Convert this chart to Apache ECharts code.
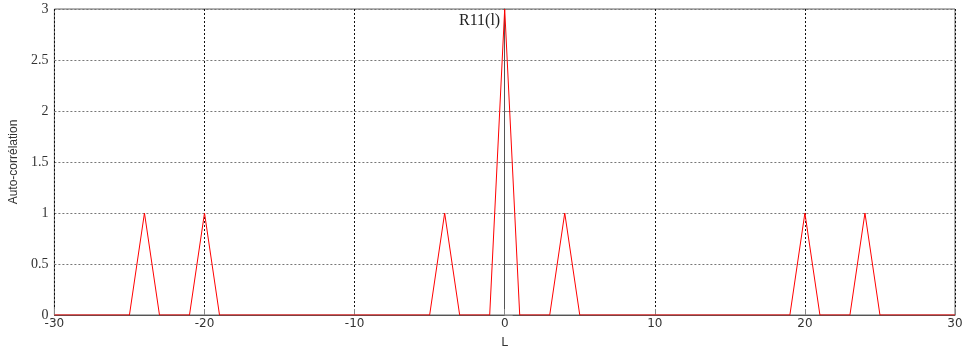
<!DOCTYPE html>
<html>
<head>
<meta charset="utf-8">
<script src="https://cdn.jsdelivr.net/npm/echarts@6/dist/echarts.min.js"></script>
<style>html,body{margin:0;padding:0;background:#fff;}#c{width:967px;height:354px;}</style>
</head>
<body>
<div id="c"></div>
<script>
const lags = [-30, -25, -24, -23, -21, -20, -19, -5, -4, -3, -1, 0, 1, 3, 4, 5, 19, 20, 21, 23, 24, 25, 30];
const corr = [0, 0, 1, 0, 0, 1, 0, 0, 1, 0, 0, 3, 0, 0, 1, 0, 0, 1, 0, 0, 1, 0, 0];
const xTicks = [-30, -20, -10, 0, 10, 20, 30];
const yTicks = [0, 0.5, 1, 1.5, 2, 2.5, 3];
const peakLabel = 'R11(l)';
const xName = 'L';
const yName = 'Auto-corrélation';

const chart = echarts.init(document.getElementById('c'), null, {renderer: 'canvas'});
const peakIdx = corr.indexOf(Math.max(...corr));
chart.setOption({
  animation: false,
  grid: {left: 53, right: 12, top: 9, bottom: 37, show: true, borderColor: '#666', borderWidth: 1},
  xAxis: {
    type: 'value', min: xTicks[0], max: xTicks[xTicks.length - 1], interval: 10,
    name: xName, nameLocation: 'middle', nameGap: 22,
    nameTextStyle: {fontFamily: 'DejaVu Sans', fontSize: 12, color: '#333'},
    axisLine: {show: true, onZero: false, lineStyle: {color: '#555'}},
    axisTick: {show: true, inside: true, length: 6, lineStyle: {color: '#888'}},
    axisLabel: {fontFamily: 'DejaVu Sans', fontSize: 12, color: '#333', margin: 3},
    splitLine: {show: true, lineStyle: {type: [2, 2], color: '#111', width: 1}}
  },
  yAxis: {
    type: 'value', min: yTicks[0], max: yTicks[yTicks.length - 1], interval: 0.5,
    name: yName, nameLocation: 'middle', nameGap: 33, nameRotate: 90,
    nameTextStyle: {fontFamily: 'Liberation Sans Narrow, Liberation Sans', fontSize: 12, color: '#333'},
    axisLine: {show: true, lineStyle: {color: '#555'}},
    axisTick: {show: true, inside: true, length: 8, lineStyle: {color: '#888'}},
    axisLabel: {fontFamily: 'Liberation Serif', fontSize: 14, color: '#333', margin: 6},
    splitLine: {show: true, lineStyle: {type: [2, 2], color: '#777', width: 1}}
  },
  series: [{
    type: 'line', data: lags.map((x, i) => [x, corr[i]]), showSymbol: false, symbol: 'none',
    lineStyle: {color: '#ff0000', width: 1}, z: 5,
    markPoint: {
      symbol: 'circle', symbolSize: 1, itemStyle: {color: 'rgba(0,0,0,0)'},
      data: [{coord: [lags[peakIdx], corr[peakIdx]]}],
      label: {show: true, formatter: peakLabel, position: 'left', offset: [-2, 12], distance: 2,
        fontFamily: 'Liberation Serif', fontSize: 16, color: '#222'}
    }
  }]
});
</script>
</body>
</html>
